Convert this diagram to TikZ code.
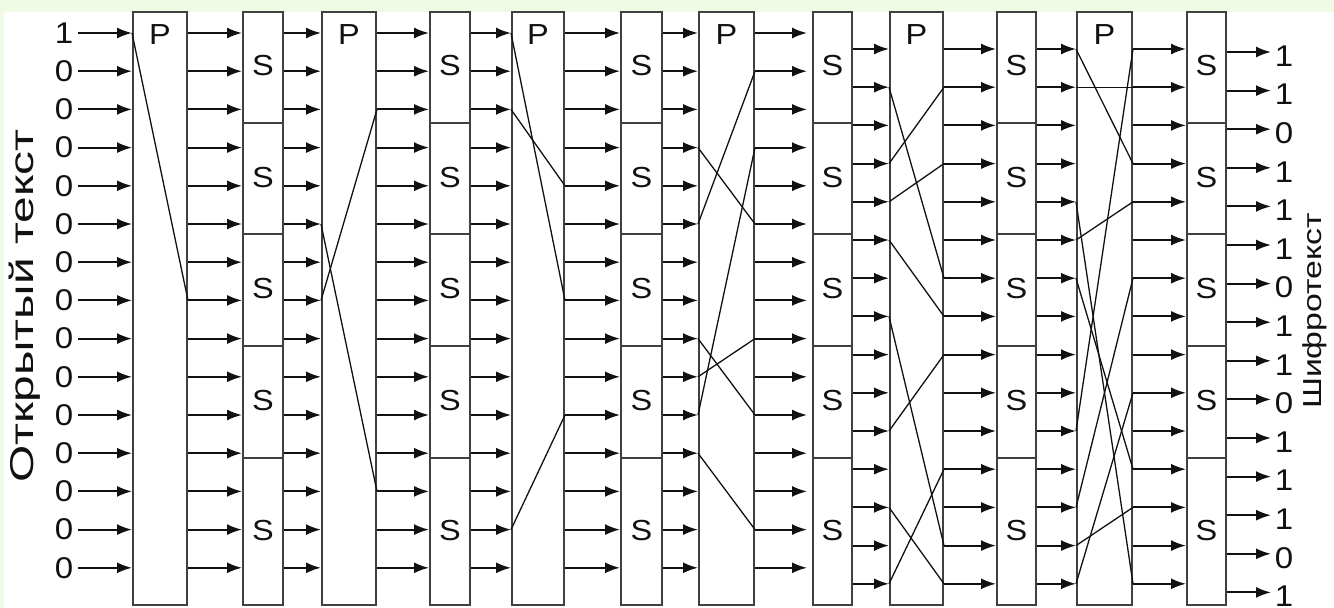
\documentclass[tikz,border=0pt]{standalone}
\usepackage{fontspec}
\setmainfont{Liberation Sans}
\newfontfamily\digfont[FakeStretch=1.1]{Liberation Sans}
\newfontfamily\boxfont[FakeStretch=1.12]{Liberation Sans}
\newfontfamily\leftfont[FakeStretch=1.45]{Liberation Sans}
\newfontfamily\rightfont[FakeStretch=1.3]{Liberation Sans}
\usetikzlibrary{arrows.meta}
\definecolor{bggreen}{HTML}{F0FBE6}
\definecolor{boxgray}{HTML}{404040}
\definecolor{ink}{HTML}{111111}
\begin{document}
\begin{tikzpicture}[x=1pt,y=-1pt,
  declare function={ry(\i)=33+38.2*(\i-1); rp(\i)=49+38.2*(\i-1); ro(\i)=52+38.6*(\i-1);},
  pbox/.style={draw=boxgray, line width=2pt, fill=white, inner sep=0pt, minimum width=54pt, minimum height=593pt},
  sbox/.style={draw=boxgray, line width=2pt, fill=white, inner sep=0pt, minimum width=40pt, minimum height=593pt},
  arr/.style={draw=ink, line width=1.9pt, -{Latex[length=15pt,width=11pt]}},
  perm/.style={draw=ink, line width=1.3pt},
  sep/.style={draw=boxgray, line width=1.8pt},
  bitlbl/.style={font=\digfont\fontsize{30}{30}\selectfont, text=ink, inner sep=0pt},
  boxlbl/.style={font=\boxfont\fontsize{29}{29}\selectfont, text=ink, inner sep=0pt},
]
\fill[bggreen] (0,0) rectangle (1334,608);
\fill[white] (4,12) rectangle (1334,608);
\useasboundingbox (0,0) rectangle (1334,608);

% P boxes
\node[pbox, minimum width=54pt] (P1) at (160,308.5) {};
\node[pbox, minimum width=54pt] (P2) at (349,308.5) {};
\node[pbox, minimum width=52pt] (P3) at (538,308.5) {};
\node[pbox, minimum width=55pt] (P4) at (726.5,308.5) {};
\node[pbox, minimum width=53pt] (P5) at (916.5,308.5) {};
\node[pbox, minimum width=55pt] (P6) at (1104.5,308.5) {};
% S columns
\node[sbox, minimum width=40pt] (S1) at (263,308.5) {};
\node[sbox, minimum width=40pt] (S2) at (450,308.5) {};
\node[sbox, minimum width=41pt] (S3) at (641.5,308.5) {};
\node[sbox, minimum width=39pt] (S4) at (832.5,308.5) {};
\node[sbox, minimum width=39pt] (S5) at (1016.5,308.5) {};
\node[sbox, minimum width=39pt] (S6) at (1206.5,308.5) {};

\foreach \p in {1,...,6} {
  \node[boxlbl] (P\p l) at (P\p.north |- 0,35) {P};
}
\foreach \s in {1,...,6} {
  \foreach \y in {123,234,346,458} {
    \draw[sep] (S\s.west |- 0,\y) -- (S\s.east |- 0,\y);
  }
  \foreach \y [count=\k] in {66,178,289,401,531} {
    \node[boxlbl] (S\s l\k) at (S\s.center |- 0,\y) {S};
  }
}

% inputs
\foreach \b [count=\i] in {1,0,0,0,0,0,0,0,0,0,0,0,0,0,0} {
  \node[bitlbl] (in\i) at (64,{ry(\i)}) {\b};
  \draw[arr] (78,{ry(\i)}) -- (P1.west |- 0,{ry(\i)});
}
% gaps
\foreach \i in {1,...,15} {
  \draw[arr] (P1.east |- 0,{ry(\i)}) -- (S1.west |- 0,{ry(\i)});
  \draw[arr] (S1.east |- 0,{ry(\i)}) -- (P2.west |- 0,{ry(\i)});
  \draw[arr] (P2.east |- 0,{ry(\i)}) -- (S2.west |- 0,{ry(\i)});
  \draw[arr] (S2.east |- 0,{ry(\i)}) -- (P3.west |- 0,{ry(\i)});
  \draw[arr] (P3.east |- 0,{ry(\i)}) -- (S3.west |- 0,{ry(\i)});
  \draw[arr] (S3.east |- 0,{ry(\i)}) -- (P4.west |- 0,{ry(\i)});
  \draw[arr, shorten >=5pt] (P4.east |- 0,{ry(\i)}) -- (S4.west |- 0,{ry(\i)});
  \draw[arr] (S4.east |- 0,{rp(\i)}) -- (P5.west |- 0,{rp(\i)});
  \draw[arr] (P5.east |- 0,{rp(\i)}) -- (S5.west |- 0,{rp(\i)});
  \draw[arr] (S5.east |- 0,{rp(\i)}) -- (P6.west |- 0,{rp(\i)});
  \draw[arr] (P6.east |- 0,{rp(\i)}) -- (S6.west |- 0,{rp(\i)});
}
% outputs
\foreach \b [count=\i] in {1,1,0,1,1,1,0,1,1,0,1,1,1,0,1} {
  \node[bitlbl] (out\i) at (1284,{ro(\i)+4}) {\b};
  \draw[arr] (S6.east |- 0,{ro(\i)}) -- (1271,{ro(\i)});
}

% permutations
\foreach \a/\b in {1/8}
  \draw[perm] (P1.west |- 0,{ry(\a)}) -- (P1.east |- 0,{ry(\b)});
\foreach \a/\b in {6/13,8/3}
  \draw[perm] (P2.west |- 0,{ry(\a)}) -- (P2.east |- 0,{ry(\b)});
\foreach \a/\b in {1/8,3/5,14/11}
  \draw[perm] (P3.west |- 0,{ry(\a)}) -- (P3.east |- 0,{ry(\b)});
\foreach \a/\b in {6/2,4/6,11/4,9/11,10/9,12/14}
  \draw[perm] (P4.west |- 0,{ry(\a)}) -- (P4.east |- 0,{ry(\b)});
\foreach \a/\b in {2/7,4/2,5/4,6/8,8/14,11/9,13/15,15/12}
  \draw[perm] (P5.west |- 0,{rp(\a)}) -- (P5.east |- 0,{rp(\b)});
\foreach \a/\b in {1/4,2/2,5/15,6/5,7/12,11/1,13/7,14/13,15/10}
  \draw[perm] (P6.west |- 0,{rp(\a)}) -- (P6.east |- 0,{rp(\b)});

% side labels
\node[rotate=90, text=ink, inner sep=0pt, font=\leftfont\fontsize{33}{33}\selectfont] (plain) at (25,306) {Открытый текст};
\node[rotate=90, text=ink, inner sep=0pt, font=\rightfont\fontsize{26}{26}\selectfont] (cipher) at (1315,311) {Шифротекст};
\end{tikzpicture}
\end{document}
